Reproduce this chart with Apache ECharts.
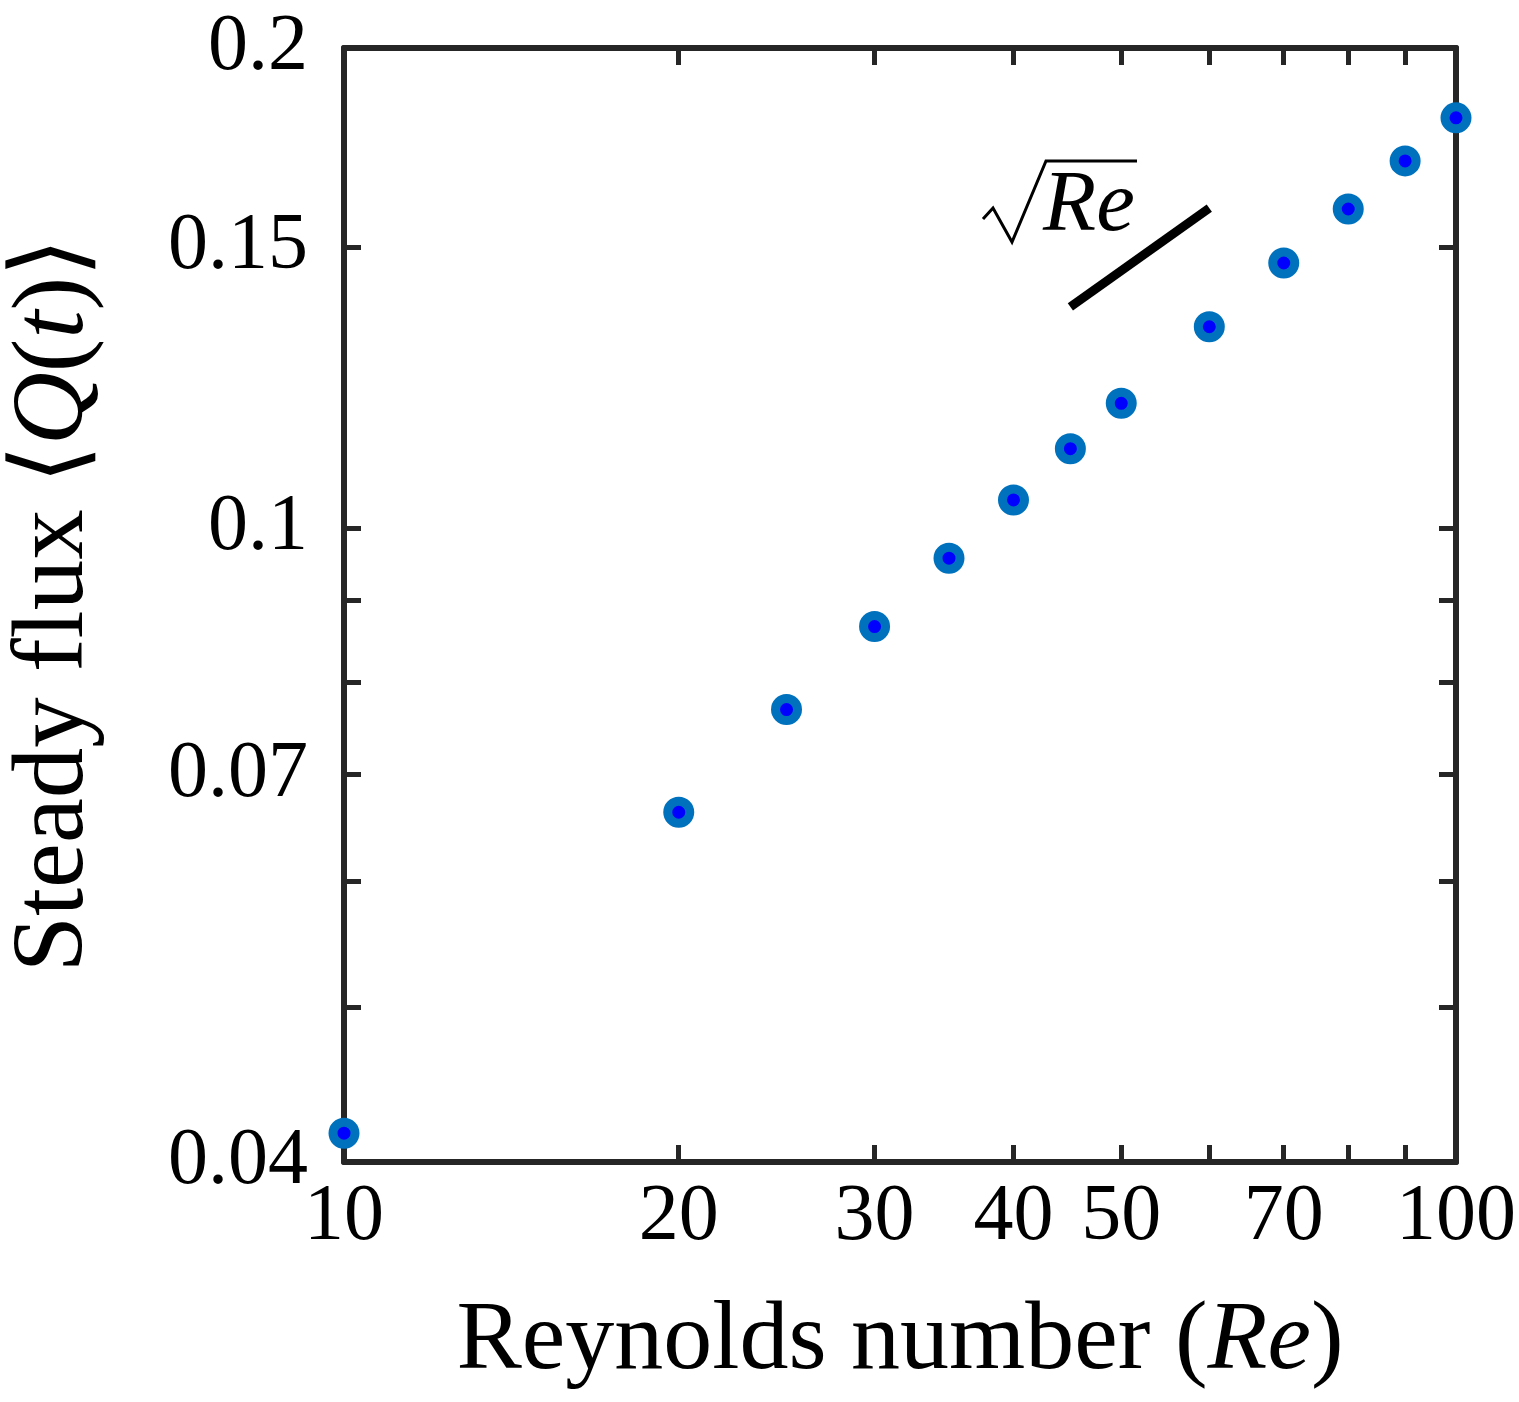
<!DOCTYPE html>
<html>
<head>
<meta charset="utf-8">
<script src="https://cdn.jsdelivr.net/npm/echarts@6/dist/echarts.min.js"></script>
<style>
  html, body { margin: 0; padding: 0; background: #fff; }
  #chart { width: 1519px; height: 1402px; }
</style>
</head>
<body>
<div id="chart"></div>
<script>
// Reynolds number vs steady flux (log-log)
var reynolds = [10, 20, 25, 30, 35, 40, 45, 50, 60, 70, 80, 90, 100];
var flux = [0.0417, 0.0663, 0.0769, 0.0867, 0.0957, 0.1041, 0.1121, 0.1197, 0.1337, 0.1466, 0.1585, 0.1699, 0.1808];

// sqrt(Re) guide segment endpoints
var slopeRe = [45, 60];
var slopeQ = [0.1376, 0.1587];

var xTicks = [10, 20, 30, 40, 50, 60, 70, 80, 90, 100];
var xLabels = [10, 20, 30, 40, 50, 70, 100];
var yTicks = [0.04, 0.05, 0.06, 0.07, 0.08, 0.09, 0.1, 0.15, 0.2];
var yLabels = [0.04, 0.07, 0.1, 0.15, 0.2];

var axisColor = '#262626';
var serif = '"Liberation Serif", "Times New Roman", serif';

function fmt(v) { return String(Number(Number(v).toPrecision(4))); }

function makeX(pos, labels) {
  return {
    type: 'log', logBase: 10, min: 10, max: 100, position: pos,
    axisLine: { onZero: false, lineStyle: { color: axisColor, width: 6 } },
    axisTick: { inside: true, length: 17, customValues: xTicks, lineStyle: { color: axisColor, width: 5 } },
    axisLabel: {
      show: labels, customValues: xLabels, margin: 16, formatter: fmt,
      color: '#000', fontFamily: serif, fontSize: 80
    },
    minorTick: { show: false }, splitLine: { show: false },
    name: labels ? 'Reynolds number ({i|Re})' : '',
    nameLocation: 'middle', nameGap: 131,
    nameTextStyle: {
      color: '#000', fontFamily: serif, fontSize: 98,
      rich: { i: { fontStyle: 'italic', fontFamily: serif, fontSize: 98, color: '#000' } }
    }
  };
}

function makeY(pos, labels) {
  return {
    type: 'log', logBase: 10, min: 0.04, max: 0.2, position: pos,
    axisLine: { onZero: false, lineStyle: { color: axisColor, width: 6 } },
    axisTick: { inside: true, length: 17, customValues: yTicks, lineStyle: { color: axisColor, width: 5 } },
    axisLabel: {
      show: labels, customValues: yLabels, margin: 36, formatter: fmt,
      color: '#000', fontFamily: serif, fontSize: 80
    },
    minorTick: { show: false }, splitLine: { show: false },
    name: labels ? 'Steady flux \u27E8{i|Q}({i|t})\u27E9' : '',
    nameLocation: 'middle', nameGap: 238, nameRotate: 90,
    nameTextStyle: {
      color: '#000', fontFamily: serif, fontSize: 101,
      rich: { i: { fontStyle: 'italic', fontFamily: serif, fontSize: 101, color: '#000' } }
    }
  };
}

var chart = echarts.init(document.getElementById('chart'));
chart.setOption({
  backgroundColor: '#fff',
  animation: false,
  grid: { left: 344, right: 63, top: 48, bottom: 240, outerBoundsMode: 'none' },
  xAxis: [makeX('bottom', true), makeX('top', false)],
  yAxis: [makeY('left', true), makeY('right', false)],
  graphic: [
    {
      type: 'polyline', z: 10,
      shape: { points: [[983, 219], [993, 208], [1012, 242], [1046, 161], [1137, 161]] },
      style: { stroke: '#000', lineWidth: 3, fill: null }
    },
    {
      type: 'text', z: 10, left: 1043, top: 164,
      style: { text: 'Re', font: 'italic 87px ' + serif, fill: '#000' }
    }
  ],
  series: [
    {
      type: 'line', xAxisIndex: 0, yAxisIndex: 0,
      data: slopeRe.map(function (r, i) { return [r, slopeQ[i]]; }),
      symbol: 'none', lineStyle: { color: '#000', width: 9, cap: 'butt' }, z: 3
    },
    {
      type: 'scatter', xAxisIndex: 0, yAxisIndex: 0, clip: false,
      data: reynolds.map(function (r, i) { return [r, flux[i]]; }),
      symbol: 'circle', symbolSize: 22,
      itemStyle: { color: '#0000FF', borderColor: '#0072BD', borderWidth: 9, opacity: 1 },
      z: 4
    }
  ]
});
</script>
</body>
</html>
